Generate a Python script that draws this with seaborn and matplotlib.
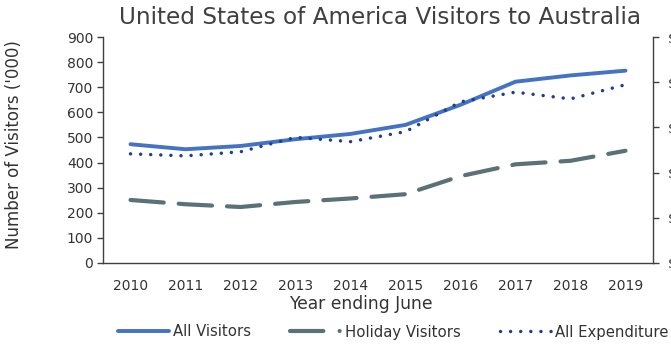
import matplotlib
matplotlib.use("Agg")
import matplotlib.pyplot as plt
from matplotlib.lines import Line2D
import seaborn as sns
import pandas as pd

years = [2010, 2011, 2012, 2013, 2014, 2015, 2016, 2017, 2018, 2019]
all_visitors = [473, 453, 466, 493, 514, 550, 630, 722, 747, 766]
holiday_visitors = [251, 234, 223, 243, 257, 274, 346, 393, 407, 447]
all_expenditure = [483, 474, 492, 556, 537, 581, 713, 756, 726, 789]  # $m (right axis)
left_ticks = [0, 100, 200, 300, 400, 500, 600, 700, 800, 900]
right_ticks = [0, 200, 400, 600, 800, 1000]
right_labels = ["$0m", "$200m", "$400m", "$600m", "$800m", "$1,000m"]

sns.set_style("white")
plt.rcParams['font.family'] = ['DejaVu Sans']

df = pd.DataFrame({"year": years, "all": all_visitors, "hol": holiday_visitors, "exp": all_expenditure})

fig = plt.figure(figsize=(6.71, 3.46), dpi=100)
ax = fig.add_axes([103/671, 1-263/346, 550/671, 226/346])
ax2 = ax.twinx()

c_all = "#4472C4"
c_hol = "#5A7177"
c_exp = "#1F3F8F"
txt = "#333333"

sns.lineplot(data=df, x="year", y="all", ax=ax, color=c_all, linewidth=2.8, legend=False)
sns.lineplot(data=df, x="year", y="hol", ax=ax, color=c_hol, linewidth=3.0, legend=False)
ax.lines[-1].set_dashes([8, 3.6])
ax.lines[-1].set_dash_capstyle("round")
sns.lineplot(data=df, x="year", y="exp", ax=ax2, color=c_exp, linewidth=2.5, legend=False)
ax2.lines[-1].set_dashes([0.01, 2.9])
ax2.lines[-1].set_dash_capstyle("round")

ax.set_xlim(2009.5, 2019.5)
ax.set_ylim(0, 900)
ax2.set_ylim(0, 1000)
ax.set_yticks(left_ticks)
ax.set_xticks(years)
ax.set_xticklabels([str(y) for y in years])
ax2.set_yticks(right_ticks)
ax2.set_yticklabels(right_labels)

for a in (ax, ax2):
    for s in a.spines.values():
        s.set_visible(False)
    a.grid(False)
ax.spines["left"].set_visible(True)
ax.spines["bottom"].set_visible(True)
ax2.spines["right"].set_visible(True)
for s in (ax.spines["left"], ax.spines["bottom"], ax2.spines["right"]):
    s.set_color("#404040")
    s.set_linewidth(1.0)

ax.tick_params(axis="y", left=True, length=4, width=1, color="#404040", labelsize=10, labelcolor=txt, pad=3)
ax.tick_params(axis="x", bottom=False, labelsize=10, labelcolor=txt, pad=8)
ax2.tick_params(axis="y", right=True, length=4, width=1, color="#404040", labelsize=10, labelcolor=txt, pad=7)

ax.set_xlabel("")
ax.set_ylabel("")
ax2.set_ylabel("")
fig.text(361/671, 1-304/346, "Year ending June", ha="center", va="center", fontsize=12.3, color=txt)
fig.text(14/671, 1-145/346, "Number of Visitors ('000)", rotation=90, ha="center", va="center",
         fontsize=12, color=txt)
fig.text(380/671, 1-18/346, "United States of America Visitors to Australia", ha="center", va="center",
         fontsize=16.7, color="#404040")

handles = [
    Line2D([], [], color=c_all, linewidth=2.8),
    Line2D([], [], color=c_hol, linewidth=3.0, dashes=[8, 3.9, 0.01, 10], dash_capstyle="round"),
    Line2D([], [], color=c_exp, linewidth=2.5, dashes=[0.01, 2.9], dash_capstyle="round"),
]
labels = ["All Visitors", "Holiday Visitors", "All Expenditure"]
fig.legend(handles, labels, loc="center", bbox_to_anchor=(393/671, 1-332/346), ncol=3,
           frameon=False, fontsize=10.7, handlelength=3.43, columnspacing=2.6, handletextpad=0.3,
           labelcolor=txt)

fig.savefig("out.png", dpi=100)
